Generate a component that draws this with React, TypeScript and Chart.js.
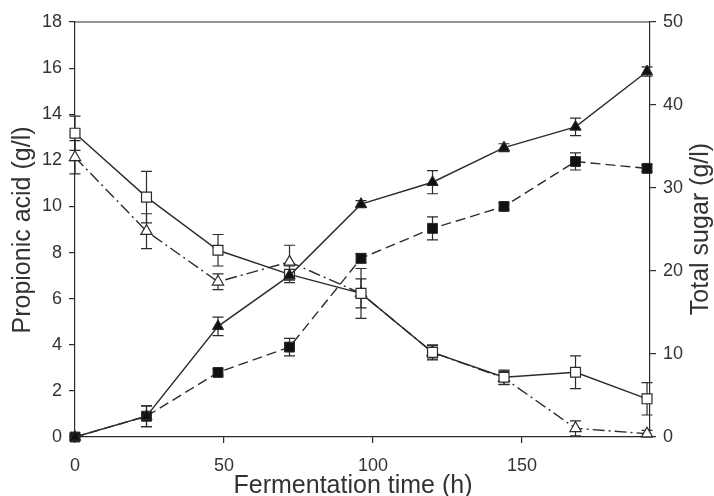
import React, { useEffect, useRef } from "react";
import { Chart, registerables } from "chart.js";

Chart.register(...registerables);

// Sampling times (h)
const hours = [0, 24, 48, 72, 96, 120, 144, 168, 192];

// Propionic acid (g/l), left axis
const acidA = [0, 0.9, 4.8, 7.0, 10.1, 11.05, 12.55, 13.45, 15.85];
const acidAErr = [0.1, 0.45, 0.4, 0.2, 0.15, 0.5, 0.17, 0.38, 0.2];
const acidB = [0, 0.9, 2.8, 3.9, 7.75, 9.05, 10.0, 11.95, 11.65];
const acidBErr = [0.1, 0.45, 0.15, 0.38, 0.2, 0.5, 0.15, 0.37, 0.15];

// Total sugar (g/l), right axis
const sugarA = [36.6, 28.9, 22.5, 19.6, 17.3, 10.2, 7.2, 7.8, 4.6];
const sugarAErr = [2.07, 3.1, 1.9, 1.0, 3.0, 0.9, 0.85, 1.97, 1.95];
const sugarB = [33.7, 24.8, 18.7, 21.1, 17.3, 10.2, 7.1, 1.05, 0.4];
const sugarBErr = [2.0, 2.1, 0.95, 2.0, 1.75, 0.8, 0.8, 0.9, 0.4];

// Axis ticks
const xTicks = [0, 50, 100, 150];
const leftTicks = [0, 2, 4, 6, 8, 10, 12, 14, 16, 18];
const rightTicks = [0, 10, 20, 30, 40, 50];

const INK = "#2b2b2b";
const TEXT = "#333333";
const FONT = "'Liberation Sans', Arial, sans-serif";

const pts = (ys: number[]) => hours.map((x, i) => ({ x, y: ys[i] }));

// Vertical error bars with caps, drawn through each dataset's own y scale
const errorBars = {
  id: "errorBars",
  beforeDatasetsDraw(chart: any) {
    const { ctx } = chart;
    const xs = chart.scales.x;
    chart.data.datasets.forEach((ds: any) => {
      if (!ds.errors) return;
      const ys = chart.scales[ds.yAxisID];
      ctx.save();
      ctx.strokeStyle = INK;
      ctx.lineWidth = 1.2;
      ctx.setLineDash([]);
      ds.data.forEach((p: any, i: number) => {
        const e = ds.errors[i];
        const px = xs.getPixelForValue(p.x);
        const top = ys.getPixelForValue(p.y + e);
        const bot = ys.getPixelForValue(Math.max(p.y - e, ys.min));
        const cap = 5.5;
        ctx.beginPath();
        ctx.moveTo(px, top);
        ctx.lineTo(px, bot);
        ctx.moveTo(px - cap, top);
        ctx.lineTo(px + cap, top);
        ctx.moveTo(px - cap, bot);
        ctx.lineTo(px + cap, bot);
        ctx.stroke();
      });
      ctx.restore();
    });
  },
};

// Top frame line and the three axis titles
const frameAndTitles = {
  id: "frameAndTitles",
  afterDraw(chart: any) {
    const { ctx, chartArea } = chart;
    ctx.save();
    ctx.strokeStyle = INK;
    ctx.lineWidth = 1.2;
    ctx.beginPath();
    ctx.moveTo(chartArea.left, chartArea.top);
    ctx.lineTo(chartArea.right, chartArea.top);
    ctx.stroke();

    ctx.fillStyle = TEXT;
    ctx.font = `25px ${FONT}`;
    ctx.textAlign = "center";
    ctx.textBaseline = "alphabetic";
    ctx.fillText("Fermentation time (h)", chartArea.left + 278, chartArea.bottom + 56);

    ctx.save();
    ctx.translate(chartArea.left - 45, chartArea.top + 208);
    ctx.rotate(-Math.PI / 2);
    ctx.fillText("Propionic acid (g/l)", 0, 0);
    ctx.restore();

    ctx.save();
    ctx.translate(chartArea.right + 58, chartArea.top + 207);
    ctx.rotate(-Math.PI / 2);
    ctx.fillText("Total sugar (g/l)", 0, 0);
    ctx.restore();
    ctx.restore();
  },
};

export default function App() {
  const ref = useRef<HTMLCanvasElement | null>(null);

  useEffect(() => {
    if (!ref.current) return;
    const tickFont = { family: FONT, size: 18 };
    const axisGrid = {
      display: true,
      drawOnChartArea: false,
      drawTicks: true,
      tickLength: 6,
      color: INK,
      lineWidth: 1.2,
    };
    const axisBorder = { display: true, color: INK, width: 1.2 };

    const chart = new Chart(ref.current, {
      type: "line",
      data: {
        datasets: [
          {
            label: "Propionic acid A",
            data: pts(acidA),
            errors: acidAErr,
            yAxisID: "y",
            clip: false,
            borderColor: INK,
            borderWidth: 1.4,
            backgroundColor: INK,
            pointStyle: "triangle",
            pointRadius: 6.5,
            pointBorderColor: INK,
            pointBackgroundColor: "#111",
            pointBorderWidth: 1,
          },
          {
            label: "Propionic acid B",
            data: pts(acidB),
            errors: acidBErr,
            yAxisID: "y",
            clip: false,
            borderColor: INK,
            borderWidth: 1.4,
            borderDash: [10, 5],
            pointStyle: "rect",
            pointRadius: 7,
            pointBorderColor: INK,
            pointBackgroundColor: "#111",
            pointBorderWidth: 1,
          },
          {
            label: "Total sugar A",
            data: pts(sugarA),
            errors: sugarAErr,
            yAxisID: "y2",
            clip: false,
            borderColor: INK,
            borderWidth: 1.4,
            pointStyle: "rect",
            pointRadius: 7,
            pointBorderColor: INK,
            pointBackgroundColor: "#ffffff",
            pointBorderWidth: 1.2,
          },
          {
            label: "Total sugar B",
            data: pts(sugarB),
            errors: sugarBErr,
            yAxisID: "y2",
            clip: false,
            borderColor: INK,
            borderWidth: 1.4,
            borderDash: [12, 4, 2, 4],
            pointStyle: "triangle",
            pointRadius: 6.5,
            pointBorderColor: INK,
            pointBackgroundColor: "#ffffff",
            pointBorderWidth: 1.2,
          },
        ] as any,
      },
      options: {
        animation: false,
        responsive: false,
        maintainAspectRatio: false,
        layout: { padding: { top: 22, left: 0, right: 0, bottom: 0 } },
        plugins: { legend: { display: false }, tooltip: { enabled: false } },
        scales: {
          x: {
            type: "linear",
            min: 0,
            max: 193,
            grid: axisGrid,
            border: axisBorder,
            ticks: { font: tickFont, color: TEXT, padding: 12, maxRotation: 0 },
            afterBuildTicks: (s: any) => {
              s.ticks = xTicks.map((v) => ({ value: v }));
            },
            afterFit: (s: any) => {
              s.height = 59;
            },
          },
          y: {
            type: "linear",
            position: "left",
            min: 0,
            max: 18,
            grid: axisGrid,
            border: axisBorder,
            ticks: { font: tickFont, color: TEXT, padding: 7 },
            afterBuildTicks: (s: any) => {
              s.ticks = leftTicks.map((v) => ({ value: v }));
            },
            afterFit: (s: any) => {
              s.width = 75;
            },
          },
          y2: {
            type: "linear",
            position: "right",
            min: 0,
            max: 50,
            grid: axisGrid,
            border: axisBorder,
            ticks: { font: tickFont, color: TEXT, padding: 7 },
            afterBuildTicks: (s: any) => {
              s.ticks = rightTicks.map((v) => ({ value: v }));
            },
            afterFit: (s: any) => {
              s.width = 64;
            },
          },
        },
      } as any,
      plugins: [errorBars, frameAndTitles],
    });
    return () => chart.destroy();
  }, []);

  return (
    <div style={{ position: "fixed", left: 0, top: 0, width: 714, height: 496, background: "#fff" }}>
      <canvas ref={ref} width={714} height={496} style={{ width: 714, height: 496 }} />
    </div>
  );
}
